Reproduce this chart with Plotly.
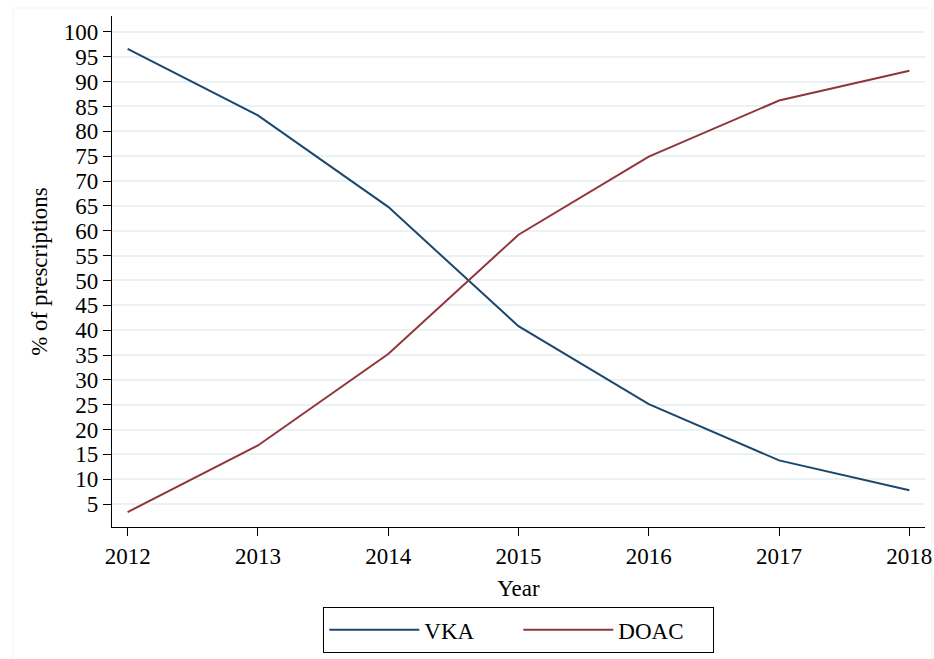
import plotly.graph_objects as go

years = [2012, 2013, 2014, 2015, 2016, 2017, 2018]
vka = [96.6, 83.2, 64.8, 40.8, 25.1, 13.8, 7.8]
doac = [3.4, 16.8, 35.2, 59.2, 74.9, 86.2, 92.2]
y_ticks = list(range(5, 101, 5))

FONT = "Liberation Serif, Times New Roman, serif"

W, H = 934, 659
L, R, T, B = 112, 9, 16, 132
PW, PH = W - L - R, H - T - B

fig = go.Figure()
fig.add_trace(go.Scatter(x=years, y=vka, mode="lines", name="VKA",
                         line=dict(color="#1a476f", width=2)))
fig.add_trace(go.Scatter(x=years, y=doac, mode="lines", name="DOAC",
                         line=dict(color="#90353b", width=2)))

fig.update_layout(
    width=W, height=H,
    margin=dict(l=L, r=R, t=T, b=B, autoexpand=False),
    paper_bgcolor="white", plot_bgcolor="white",
    font=dict(family=FONT, size=23, color="black"),
    showlegend=True,
    legend=dict(orientation="h", x=0.5, xanchor="center", y=-80 / PH, yanchor="top",
                bordercolor="black", borderwidth=1.3, font=dict(size=23),
                itemwidth=90, traceorder="normal", entrywidth=89),
    xaxis=dict(range=[2011.88, 2018.12], tickvals=years, ticks="outside", ticklen=8,
               tickcolor="black", showline=True, linecolor="black", linewidth=1.3,
               showgrid=False, zeroline=False, tickfont=dict(size=23),
               title=dict(text="Year", standoff=12, font=dict(size=23))),
    yaxis=dict(range=[0.4, 103.2], tickvals=y_ticks, ticks="outside", ticklen=8,
               tickcolor="black", showline=True, linecolor="black", linewidth=1.3,
               showgrid=True, gridcolor="#eaf2f3", gridwidth=1.5, zeroline=False,
               tickfont=dict(size=23),
               title=dict(text="% of prescriptions", standoff=9, font=dict(size=23))),
    shapes=[dict(type="rect", xref="paper", yref="paper",
                 x0=(13 - L) / PW, x1=(932 - L) / PW,
                 y0=-0.3, y1=(PH + T - 8) / PH,
                 line=dict(color="#f3f3f3", width=1), layer="below")],
)

fig.write_html("out.html",
               config={"displayModeBar": False},
               post_script="document.body.style.margin='0';document.body.style.overflow='hidden';")
